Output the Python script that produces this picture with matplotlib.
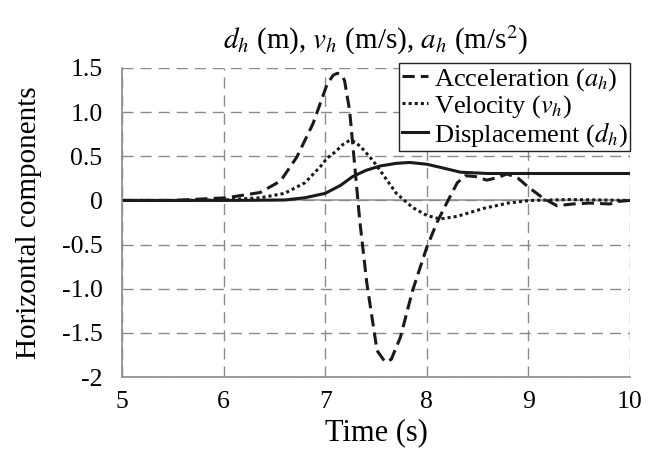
import matplotlib
matplotlib.use("Agg")
import matplotlib.pyplot as plt

plt.rcParams['font.family'] = ['Liberation Serif', 'DejaVu Serif']
plt.rcParams['mathtext.fontset'] = 'stix'

# acceleration a_h (m/s2)
t_acc = [5.0, 5.5, 6.03, 6.36, 6.56, 6.72, 6.88, 7.02, 7.08, 7.12, 7.16, 7.19, 7.24, 7.29, 7.34,
         7.41, 7.51, 7.59, 7.65, 7.74, 7.86, 8.0, 8.1, 8.2, 8.3, 8.38, 8.48, 8.59,
         8.7, 8.79, 8.9, 9.0, 9.14, 9.28, 9.44, 9.6, 9.8, 9.9, 10.0]
acc = [0.0, 0.0, 0.03, 0.09, 0.22, 0.49, 0.87, 1.32, 1.42, 1.44, 1.42, 1.36, 1.02, 0.4, -0.23,
       -0.94, -1.7, -1.83, -1.8, -1.55, -1.02, -0.53, -0.25, -0.02, 0.2, 0.28, 0.27, 0.23,
       0.26, 0.3, 0.25, 0.15, 0.03, -0.06, -0.04, -0.03, -0.04, -0.01, 0.0]

# velocity v_h (m/s)
t_vel = [5.0, 5.5, 6.0, 6.36, 6.6, 6.8, 6.95, 7.02, 7.1, 7.17, 7.24, 7.3, 7.38, 7.47, 7.54, 7.7,
         7.86, 8.0, 8.13, 8.3, 8.56, 8.8, 9.02, 9.4, 10.0]
vel = [0.0, 0.0, 0.005, 0.03, 0.08, 0.2, 0.38, 0.48, 0.55, 0.63, 0.68, 0.66, 0.57, 0.45, 0.34, 0.08,
       -0.08, -0.17, -0.21, -0.18, -0.09, -0.03, 0.0, 0.01, 0.0]

# displacement d_h (m)
t_dis = [5.0, 5.5, 6.0, 6.3, 6.6, 6.8, 7.0, 7.15, 7.27, 7.4, 7.54, 7.7, 7.83, 8.0, 8.15, 8.33,
         8.6, 8.8, 9.0, 9.5, 10.0]
dis = [0.0, 0.0, 0.0, 0.002, 0.005, 0.03, 0.08, 0.17, 0.27, 0.34, 0.39, 0.42, 0.43, 0.41, 0.37, 0.32,
       0.305, 0.305, 0.305, 0.305, 0.305]

xticks = [5, 6, 7, 8, 9, 10]
yticks = [1.5, 1.0, 0.5, 0, -0.5, -1.0, -1.5, -2]
ylabels = ['1.5', '1.0', '0.5', '0', '-0.5', '-1.0', '-1.5', '-2']

fig = plt.figure(figsize=(6.61, 4.65), dpi=100)
ax = fig.add_axes([0.1846, 0.1892, 0.7685, 0.6646])

ax.plot(t_acc, acc, color='#1a1a1a', linestyle=(0, (4, 2)), lw=2.2, label=r'Acceleration ($a_h$)')
ax.plot(t_vel, vel, color='#1a1a1a', linestyle=(0, (1, 1)), lw=2.2, label=r'Velocity ($v_h$)')
ax.plot(t_dis, dis, color='#1a1a1a', linestyle='-', lw=2.2, label=r'Displacement ($d_h$)')

ax.set_xlim(5, 10)
ax.set_ylim(-2, 1.5)
ax.set_xticks(xticks)
ax.set_xticklabels([str(v) for v in xticks])
ax.set_yticks(yticks)
ax.set_yticklabels(ylabels)
ax.tick_params(labelsize=18.5, length=0)
ax.tick_params(axis='y', pad=14)
ax.tick_params(axis='x', pad=10)

ax.grid(True, color='#8a8a8a', linestyle=(0, (8, 5)), lw=1.0)
ax.axhline(0, color='#9a9a9a', lw=1.2, zorder=1)
for s in ['top', 'right']:
    ax.spines[s].set_visible(False)
ax.spines['left'].set_color('#8a8a8a')
ax.spines['bottom'].set_color('#8a8a8a')
ax.spines['left'].set_linewidth(1.2)
ax.spines['bottom'].set_linewidth(1.2)

ax.set_xlabel('Time (s)', fontsize=22, labelpad=4)
ax.set_ylabel('Horizontal components', fontsize=21, labelpad=14)
ax.set_title(r'$d_h$ (m), $v_h$ (m/s), $a_h$ (m/s$^2$)', fontsize=21, pad=14)

leg = ax.legend(loc='upper right', fontsize=19, handlelength=1.0, handletextpad=0.2,
                borderpad=0.1, labelspacing=0.0, fancybox=False, framealpha=1,
                edgecolor='#222222', borderaxespad=0.0, bbox_to_anchor=(1.0, 1.015))
leg.get_frame().set_linewidth(1.0)

fig.savefig('out.png', dpi=100)
